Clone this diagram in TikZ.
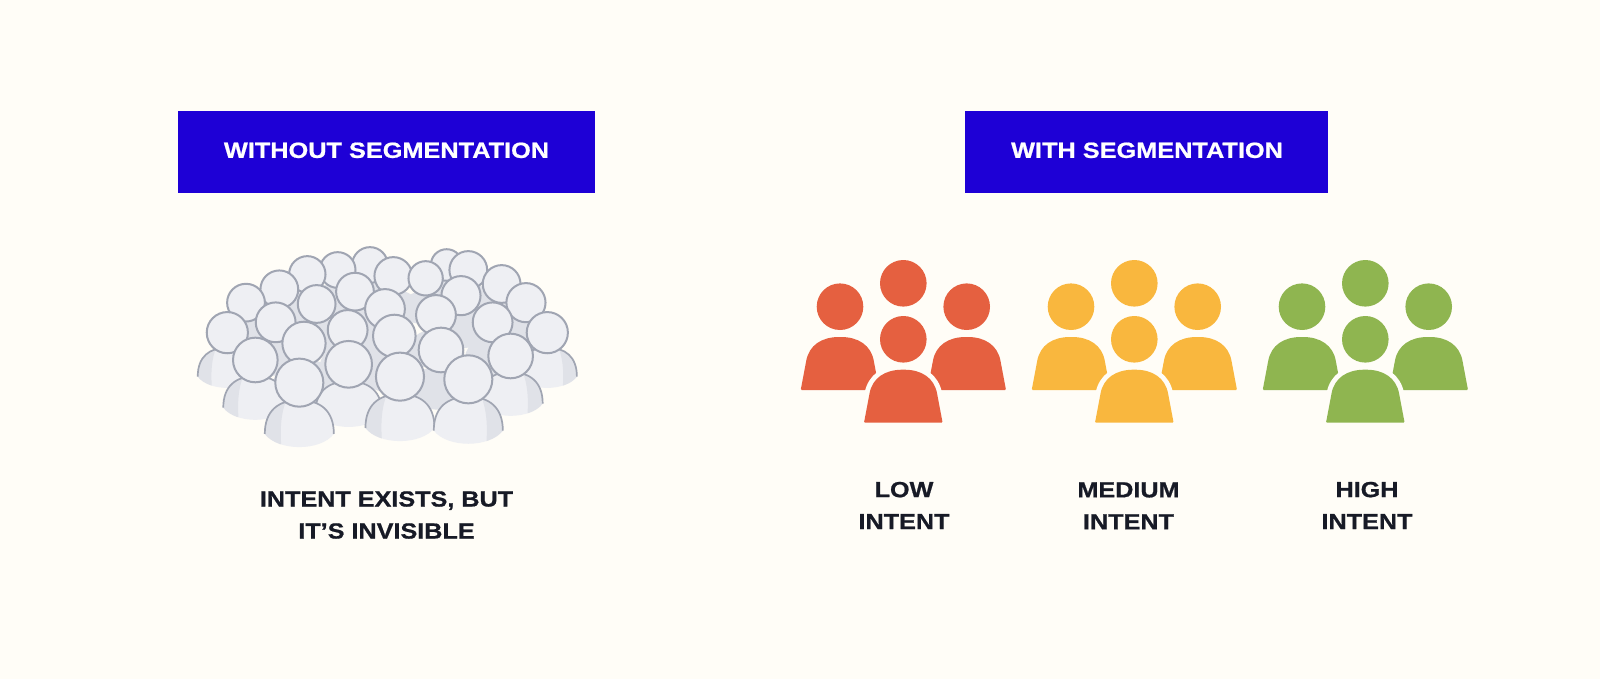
\documentclass[tikz,border=0pt]{standalone}
\usepackage{fontspec}
\newfontfamily\labelfont[FakeStretch=1.15,FakeBold=0.8]{Liberation Sans Bold}
\definecolor{pagebg}{HTML}{FFFDF7}
\definecolor{bannerblue}{HTML}{1E00D6}
\definecolor{labelink}{HTML}{171A26}
\definecolor{lowred}{HTML}{E56040}
\definecolor{midyellow}{HTML}{F9B73E}
\definecolor{highgreen}{HTML}{8FB550}
\definecolor{crowdline}{HTML}{A0A5B2}
\definecolor{crowdfill}{HTML}{EEEFF3}
\definecolor{crowdshade}{HTML}{E0E2E8}
\tikzset{
    banner/.style={text=white,font=\labelfont\fontsize{22}{26}\selectfont,anchor=center,inner sep=0pt},
    caption/.style={text=labelink,font=\labelfont\fontsize{21.9}{32}\selectfont,align=center,anchor=center,inner sep=0pt},
}
\newcommand{\crowdbody}{(-1.48,2.2) .. controls (-1.48,1.2) and (-0.9,0.75) .. (0,0.75) .. controls (0.9,0.75) and (1.48,1.2) .. (1.48,2.2) .. controls (0.9,2.95) and (-0.9,2.95) .. cycle}
\newcommand{\intentbody}{(-39.3,0) -- (-34,-28) .. controls (-31,-45) and (-18,-53) .. (0,-53) .. controls (18,-53) and (31,-45) .. (34,-28) -- (39.3,0) -- cycle}
\begin{document}
\begin{tikzpicture}[x=1pt,y=-1pt]
    \useasboundingbox (0,0) rectangle (1600,679);
    \fill[pagebg] (0,0) rectangle (1600,679);

    \fill[bannerblue] (177.5,111) rectangle (595,193);
    \node[banner] (withoutlabel) at (386.5,150.3) {WITHOUT SEGMENTATION};
    \fill[bannerblue] (965,111) rectangle (1328,193);
    \node[banner] (withlabel) at (1147,150.3) {WITH SEGMENTATION};

    \begin{scope}[shift={(180,230)},x=0.3333pt,y=-0.3333pt]
        \foreach \hx/\hy/\hr/\side in {
            570/105/52/0, 800/105/46/0, 473/120/52/0, 382/133/53/0, 865/120/55/0,
            640/138/55/0, 737/145/50/0, 965/162/55/0, 298/178/55/0, 525/185/55/0,
            843/197/57/0, 198/218/55/0, 1038/218/57/0, 410/222/55/0, 615/237/58/0,
            768/255/58/0, 287/277/58/0, 938/277/58/0, 503/300/58/0, 142/308/60/-1,
            1102/308/60/1, 643/318/62/0, 372/340/63/0, 783/360/65/0, 992/378/65/1,
            226/390/65/-1, 506/403/68/2, 358/458/70/-1, 660/440/70/-1, 865/448/70/1} {
            \begin{scope}[shift={(\hx,\hy)},scale=\hr]
                \ifnum\side=0
                    \fill[crowdshade] \crowdbody;
                \else
                    \fill[crowdfill] \crowdbody;
                    \ifnum\side<2
                        \begin{scope}
                            \clip \crowdbody;
                            \fill[crowdshade,xscale=\side] (1.7,0.5) -- (0.45,0.5) .. controls (0.8,1.2) and (0.85,2) .. (0.75,3) -- (1.7,3) -- cycle;
                        \end{scope}
                    \fi
                    \draw[crowdline,line width=1.7pt] (-1.48,2.2) .. controls (-1.48,1.2) and (-0.9,0.75) .. (0,0.75) .. controls (0.9,0.75) and (1.48,1.2) .. (1.48,2.2);
                \fi
                \draw[crowdline,fill=crowdfill,line width=2pt] (0,0) circle (1.03);
            \end{scope}
        }
    \end{scope}

    \foreach \gx/\gcol in {0/lowred,231/midyellow,462/highgreen} {
        \begin{scope}[shift={(\gx,0)}]
            \fill[\gcol] (903.3,283.3) circle (23.3);
            \fill[\gcol] (840,306.7) circle (23.3);
            \fill[\gcol] (966.7,306.7) circle (23.3);
            \fill[\gcol,rounded corners=1pt,shift={(840,390)}] \intentbody;
            \fill[\gcol,rounded corners=1pt,shift={(966.7,390)}] \intentbody;
            \draw[pagebg,line width=10pt,shift={(903.3,422.7)}] \intentbody;
            \fill[\gcol,rounded corners=1pt,shift={(903.3,422.7)}] \intentbody;
            \fill[\gcol] (903.3,339.3) circle (23.3);
        \end{scope}
    }

    \node[caption] (invisiblelabel) at (386.5,515) {INTENT EXISTS, BUT\\IT’S INVISIBLE};
    \node[caption] (lowlabel) at (904,505.5) {LOW\\INTENT};
    \node[caption] (mediumlabel) at (1128.5,505.8) {MEDIUM\\INTENT};
    \node[caption] (highlabel) at (1367,505.5) {HIGH\\INTENT};
\end{tikzpicture}
\end{document}
